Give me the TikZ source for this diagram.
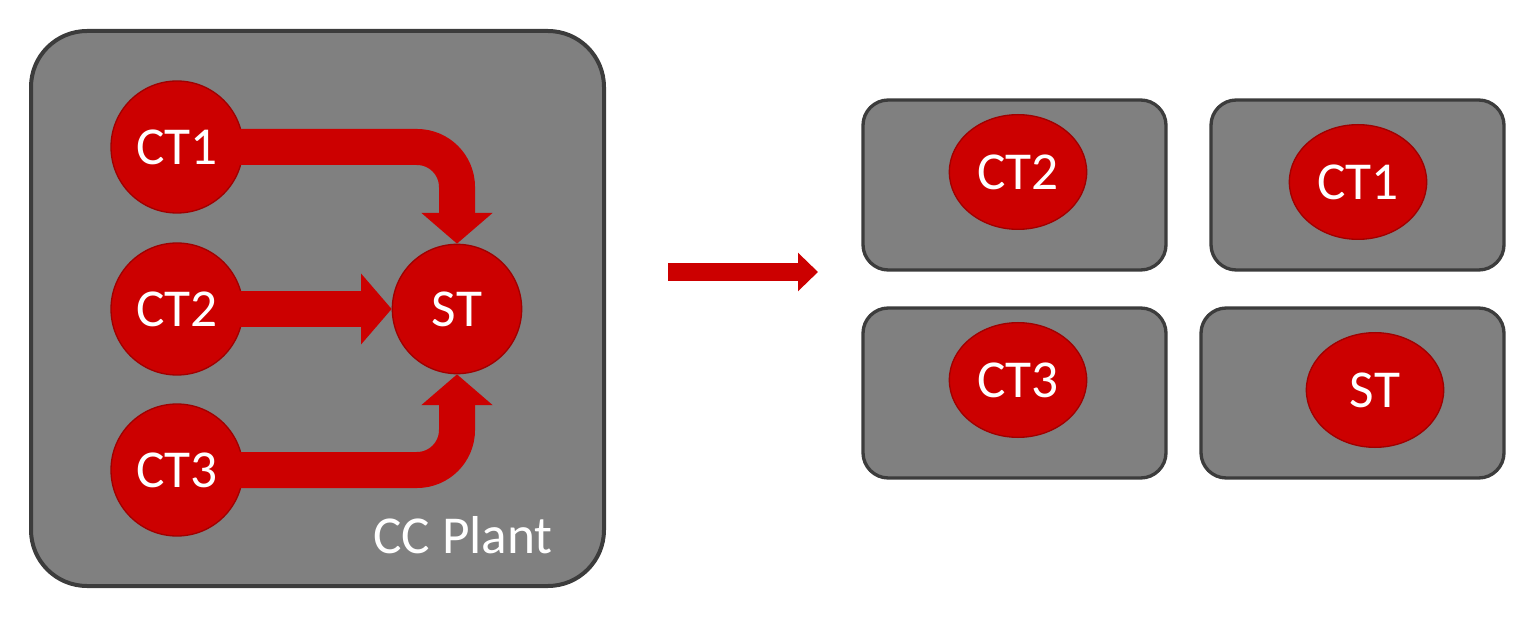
\documentclass[tikz,border=0pt]{standalone}
\usepackage{fontspec}
\setmainfont{Carlito}
\usepackage{tikz}
\usetikzlibrary{arrows.meta,shapes.geometric}
\definecolor{plantgray}{RGB}{128,128,128}
\definecolor{edgegray}{RGB}{60,60,60}
\definecolor{ctred}{RGB}{204,0,0}
\definecolor{rimred}{RGB}{160,0,0}

\begin{document}
\begin{tikzpicture}[x=0.75pt,y=0.75pt,yscale=-1,xscale=1,
  unitcirc/.style={circle,fill=ctred,draw=rimred,line width=1pt,minimum size=99pt,inner sep=0pt,text=white,font=\fontsize{40}{48}\selectfont},
  unitoval/.style={ellipse,fill=ctred,draw=rimred,line width=1pt,minimum width=103pt,minimum height=86pt,inner sep=0pt,text=white,font=\fontsize{40}{48}\selectfont},
  flow/.style={draw=ctred,line width=27pt,rounded corners=30pt,-{Triangle[width=52pt,length=23pt]}},
  bigflow/.style={draw=ctred,line width=14pt,-{Triangle[width=28pt,length=15pt]}}]
\useasboundingbox (0,0) rectangle (1528,620);

%Shape: Rectangle [CC plant]
\draw [fill=plantgray,draw=edgegray,line width=3pt,rounded corners=42pt] (31,31) rectangle (604,586) ;

% Circle Nodes
\node [unitcirc] (ct1) at (177,147) {CT1};
\node [unitcirc] (ct2) at (177,309) {CT2};
\node [unitcirc] (ct3) at (177,470) {CT3};
\node [unitcirc,minimum size=97pt] (st) at (457,309) {ST};

%Straight Lines [flows into ST]
\draw [flow] ([xshift=-8pt]ct1.east) -| (st.north) ;
\draw [flow] ([xshift=-8pt]ct2.east) -- (st.west) ;
\draw [flow] ([xshift=-8pt]ct3.east) -| (st.south) ;

% Text Node
\node [anchor=base,text=white,font=\fontsize{40}{48}\selectfont] (plantlbl) at (463,553) {CC Plant};

%Straight Lines [split arrow]
\coordinate (splitS) at (668,272);
\coordinate (splitE) at (818,272);
\draw [bigflow] (splitS) -- (splitE) ;

%Shape: Rectangle [unit boxes]
\draw [fill=plantgray,draw=edgegray,line width=2.5pt,rounded corners=19pt] (863,100) rectangle (1166,270) ;
\draw [fill=plantgray,draw=edgegray,line width=2.5pt,rounded corners=19pt] (1211,100) rectangle (1504,270) ;
\draw [fill=plantgray,draw=edgegray,line width=2.5pt,rounded corners=19pt] (863,308) rectangle (1166,478) ;
\draw [fill=plantgray,draw=edgegray,line width=2.5pt,rounded corners=19pt] (1201,308) rectangle (1504,478) ;

% Oval Nodes
\node [unitoval] (u2) at (1018,172) {CT2};
\node [unitoval] (u1) at (1358,182) {CT1};
\node [unitoval] (u3) at (1018,380) {CT3};
\node [unitoval] (ust) at (1375,390) {ST};

\end{tikzpicture}
\end{document}
